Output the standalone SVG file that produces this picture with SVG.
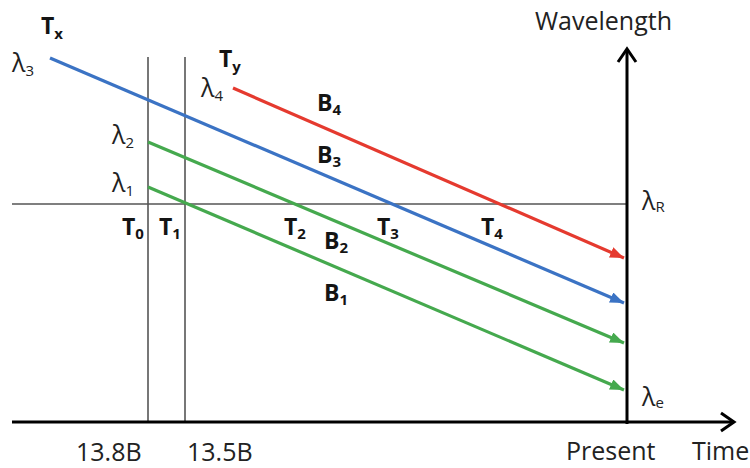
<svg xmlns="http://www.w3.org/2000/svg" width="750" height="468" viewBox="0 0 750 468">
<style>
.lbl{font-family:"Open Sans","Liberation Sans",sans-serif;fill:#222;font-size:25px}
.b{font-family:"Open Sans","Liberation Sans",sans-serif;fill:#141414;font-size:23px;font-weight:bold}
.lam{font-family:"Open Sans","Liberation Sans",sans-serif;fill:#222;font-size:25px}
.sub{font-size:15px}
.thin{stroke:#555;stroke-width:1.6;fill:none}
.axis{stroke:#000;stroke-width:3;fill:none}
.ray{stroke-width:3.2;fill:none}
</style>
<defs>
<marker id="aR" markerUnits="userSpaceOnUse" markerWidth="15" markerHeight="11" refX="14" refY="5.5" orient="auto"><path d="M0,0 L14,5.5 L0,11 z" fill="#e53a2f"/></marker>
<marker id="aB" markerUnits="userSpaceOnUse" markerWidth="15" markerHeight="11" refX="14" refY="5.5" orient="auto"><path d="M0,0 L14,5.5 L0,11 z" fill="#3b73c4"/></marker>
<marker id="aG" markerUnits="userSpaceOnUse" markerWidth="15" markerHeight="11" refX="14" refY="5.5" orient="auto"><path d="M0,0 L14,5.5 L0,11 z" fill="#45a94e"/></marker>
</defs>
<rect width="750" height="468" fill="#fff"/>
<g id="connectors">
<line class="thin" x1="12" y1="204" x2="627" y2="204"/>
<line class="thin" x1="148" y1="57" x2="148" y2="422"/>
<line class="thin" x1="185" y1="57" x2="185" y2="422"/>
<line class="axis" x1="12" y1="422" x2="734" y2="422"/>
<path class="axis" d="M721,413 L734,422 L721,431"/>
<line class="axis" x1="627" y1="424" x2="627" y2="49"/>
<path class="axis" d="M618,62 L627,49 L636,62"/>
<line class="ray" stroke="#3b73c4" x1="50" y1="58" x2="624" y2="303" marker-end="url(#aB)"/>
<line class="ray" stroke="#e53a2f" x1="233" y1="88" x2="624" y2="258" marker-end="url(#aR)"/>
<line class="ray" stroke="#45a94e" x1="148" y1="142" x2="624" y2="343" marker-end="url(#aG)"/>
<line class="ray" stroke="#45a94e" x1="148" y1="187" x2="624" y2="390" marker-end="url(#aG)"/>
</g>
<g id="axis-labels">
<text class="lbl" x="535" y="30">Wavelength</text>
<text class="lbl" x="566" y="460">Present</text>
<text class="lbl" x="692" y="460">Time</text>
<text class="lbl" x="76" y="461">13.8B</text>
<text class="lbl" x="187" y="461">13.5B</text>
</g>
<g id="lambda-labels">
<text class="lam" x="12" y="72">λ<tspan class="sub" dy="4">3</tspan></text>
<text class="lam" x="201" y="97">λ<tspan class="sub" dy="4">4</tspan></text>
<text class="lam" x="112" y="144">λ<tspan class="sub" dy="4">2</tspan></text>
<text class="lam" x="112" y="192">λ<tspan class="sub" dy="4">1</tspan></text>
<text class="lam" x="642" y="210">λ<tspan class="sub" dy="2">R</tspan></text>
<text class="lam" x="642" y="406">λ<tspan class="sub" dy="2">e</tspan></text>
</g>
<g id="time-labels">
<text class="b" x="41" y="34">T<tspan class="sub" dy="5">x</tspan></text>
<text class="b" x="219" y="67">T<tspan class="sub" dy="5">y</tspan></text>
<text class="b" x="122" y="235">T<tspan class="sub" dy="4">0</tspan></text>
<text class="b" x="159" y="235">T<tspan class="sub" dy="4">1</tspan></text>
<text class="b" x="284" y="235">T<tspan class="sub" dy="4">2</tspan></text>
<text class="b" x="377" y="235">T<tspan class="sub" dy="4">3</tspan></text>
<text class="b" x="481" y="235">T<tspan class="sub" dy="4">4</tspan></text>
</g>
<g id="beam-labels">
<text class="b" x="317" y="111">B<tspan class="sub" dy="4">4</tspan></text>
<text class="b" x="317" y="163">B<tspan class="sub" dy="4">3</tspan></text>
<text class="b" x="324" y="249">B<tspan class="sub" dy="4">2</tspan></text>
<text class="b" x="324" y="301">B<tspan class="sub" dy="4">1</tspan></text>
</g>
</svg>
